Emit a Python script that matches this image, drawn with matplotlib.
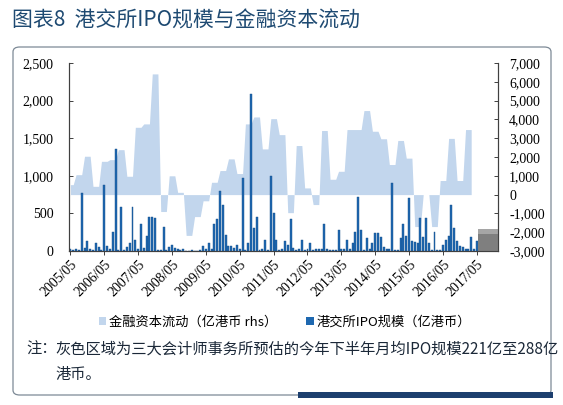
import numpy as np
import matplotlib
matplotlib.use('Agg')
import matplotlib.pyplot as plt
from matplotlib.patches import FancyBboxPatch, Rectangle, Patch

plt.rcParams['font.family'] = ['Noto Sans CJK SC', 'DejaVu Sans']

# monthly HKEX IPO size, 2005/05 .. 2017/05 (HK$ 100m)
ipo_size = [
    20, 15, 30, 10, 775, 40, 130, 20, 10, 100, 50, 15,
    875, 60, 20, 255, 1355, 10, 590, 10, 50, 100, 590, 145,
    30, 365, 40, 195, 450, 450, 440, 15, 10, 325, 10, 50,
    80, 45, 30, 10, 25, 5, 5, 10, 5, 5, 10, 70,
    30, 100, 20, 355, 420, 800, 610, 215, 60, 60, 40, 85,
    30, 975, 15, 100, 2085, 300, 455, 10, 20, 150, 15, 1000,
    510, 150, 10, 25, 130, 85, 420, 40, 10, 25, 150, 15,
    25, 100, 10, 25, 30, 30, 360, 20, 10, 10, 15, 280,
    20, 30, 145, 30, 110, 257, 720, 280, 10, 177, 25, 100,
    240, 240, 190, 50, 20, 30, 910, 10, 15, 170, 355, 200,
    710, 130, 120, 110, 445, 180, 440, 110, 15, 250, 10, 15,
    80, 150, 195, 610, 300, 135, 60, 50, 25, 20, 180, 20,
    130,
]

# quarterly financial capital flow, 2005Q2 .. 2017Q1 (HK$ 100m, rhs)
flow_quarterly = [
    530, 1060, 2040,
    440, 1770, 1860, 2390,
    975, 3580, 3760, 6420,
    -900, 1000, 120, -2170,
    -1170, -330, 655, 1280,
    1900, 1120, 3760, 4130,
    2430, 4040, 3190, -960,
    2610, 355, -530, 3410,
    815, 1240, 3460, 3460,
    4470, 3370, 2970, 1600,
    2880, 1940, -1700, 0,
    -1700, 750, 2990, 750,
    3460,
]
months_in_quarter = [2] + [3] * (len(flow_quarterly) - 1)

# accountants' estimate for 2H2017 monthly IPO size (221 to 288)
forecast_months = [145, 146, 147, 148, 149, 150, 151]
forecast_low = 221
forecast_high = 288

tick_labels = ['2005/05', '2006/05', '2007/05', '2008/05', '2009/05',
               '2010/05', '2011/05', '2012/05', '2013/05', '2014/05',
               '2015/05', '2016/05', '2017/05']

flow_monthly = np.repeat(flow_quarterly, months_in_quarter)
x_ipo = np.arange(len(ipo_size))
x_flow = np.arange(len(flow_monthly))

fig = plt.figure(figsize=(5.63, 4.05), dpi=100)

W, H = 563.0, 405.0
box = FancyBboxPatch((13 / W, 1 - 395 / H), 538 / W, 348 / H,
                     boxstyle='round,pad=0,rounding_size=0.012',
                     transform=fig.transFigure, facecolor='white',
                     edgecolor='#7d8a96', linewidth=0.9, zorder=-5)
fig.patches.append(box)
fig.patches.append(Rectangle((298 / W, 1 - 398 / H), 255 / W, 6 / H,
                             transform=fig.transFigure, facecolor='#1d3f6e',
                             edgecolor='none', zorder=-5))

ax1 = fig.add_axes([69 / W, 1 - 251 / H, 429 / W, 188 / H])
ax2 = ax1.twinx()
ax1.set_zorder(ax2.get_zorder() + 1)
ax1.patch.set_visible(False)
ax2.patch.set_visible(False)

blue_light = '#c2d6ed'
blue_dark = '#1e68b0'

ax2.fill_between(x_flow, 0, flow_monthly, color=blue_light, linewidth=0)
ax2.set_ylim(-3000, 7000)
ax2.set_yticks(range(-3000, 7001, 1000))
ax2.set_yticklabels([f'{v:,}' for v in range(-3000, 7001, 1000)])

ax1.bar(x_ipo, ipo_size, width=0.7, color=blue_dark,
        edgecolor='#174f8a', linewidth=0.3)
ax1.bar(forecast_months, [forecast_low] * len(forecast_months), width=1.0,
        color='#7f7f7f', linewidth=0)
ax1.bar(forecast_months, [forecast_high - forecast_low] * len(forecast_months),
        bottom=forecast_low, width=1.0, color='#a5a5a5', linewidth=0)
ax1.set_ylim(0, 2500)
ax1.set_yticks(range(0, 2501, 500))
ax1.set_yticklabels([f'{v:,}' for v in range(0, 2501, 500)])
ax1.set_xlim(-0.5, 151.5)
ax1.set_xticks(range(0, 145, 12))
ax1.set_xticklabels(tick_labels, rotation=45, ha='right', va='top',
                    rotation_mode='anchor')

serif = 'Liberation Serif'
for ax in (ax1, ax2):
    for side in ('left', 'right', 'bottom'):
        ax.spines[side].set_color('#404040')
        ax.spines[side].set_linewidth(0.8)
    ax.spines['top'].set_visible(False)
    for lab in ax.get_xticklabels() + ax.get_yticklabels():
        lab.set_fontfamily(serif)
        lab.set_fontsize(10)
ax1.tick_params(axis='y', direction='in', length=3, width=0.7, pad=11, color='#404040')
ax2.tick_params(axis='y', direction='in', length=3, width=0.7, pad=8, color='#404040')
ax1.tick_params(axis='x', direction='out', length=3, width=0.7, pad=2, color='#404040')

handles = [Patch(facecolor=blue_light, edgecolor='none'),
           Patch(facecolor=blue_dark, edgecolor='none')]
fig.legend(handles, ['金融资本流动（亿港币 rhs）', '港交所IPO规模（亿港币）'],
           loc='center', bbox_to_anchor=(285 / W, 1 - 322 / H), ncol=2,
           frameon=False, fontsize=9.5, handlelength=0.6, handleheight=0.6,
           handletextpad=0.2, columnspacing=2.2)

fig.text(12 / W, 1 - 21 / H, '图表8  港交所IPO规模与金融资本流动', fontsize=15,
         color='#1e4a72', va='center', ha='left')
note_color = '#1b2838'
fig.text(26 / W, 1 - 349 / H, '注：', fontsize=11, color=note_color, va='center')
fig.text(55 / W, 1 - 349 / H, '灰色区域为三大会计师事务所预估的今年下半年月均IPO规模221亿至288亿',
         fontsize=11, color=note_color, va='center')
fig.text(55 / W, 1 - 374 / H, '港币。', fontsize=11, color=note_color, va='center')

fig.savefig('out.png', dpi=100)
